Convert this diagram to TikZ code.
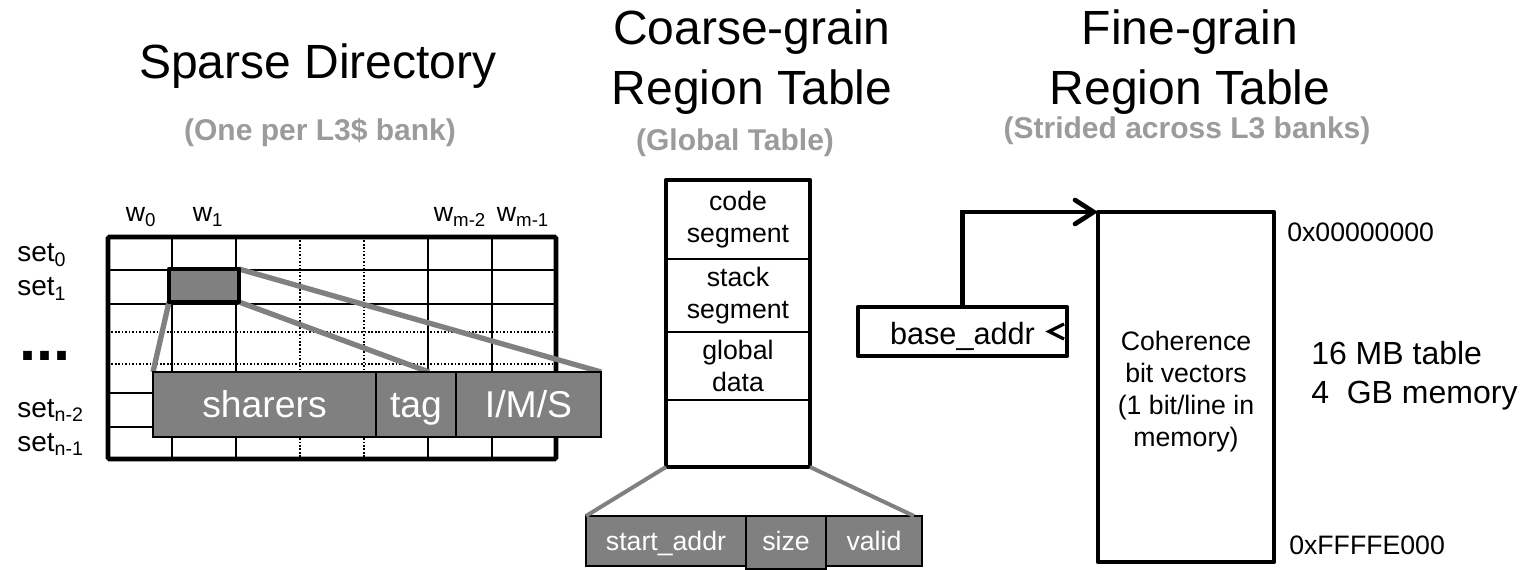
\documentclass[tikz,border=0pt]{standalone}
\usepackage{fontspec}
\setmainfont{Liberation Sans}
\usetikzlibrary{arrows.meta}
\definecolor{boxgray}{RGB}{128,128,128}
\definecolor{linegray}{RGB}{128,128,128}
\definecolor{subgray}{RGB}{155,155,155}
\pgfdeclarelayer{gridlayer}
\pgfdeclarelayer{front}
\pgfsetlayers{gridlayer,main,front}
\begin{document}
\begin{tikzpicture}[x=0.75pt,y=-0.75pt,
  title/.style={font=\fontsize{36}{45}\selectfont, inner sep=0, anchor=base},
  subtitle/.style={font=\fontsize{22.5}{27}\selectfont\bfseries, text=subgray, inner sep=0, anchor=base},
  lbl/.style={font=\fontsize{20}{24}\selectfont, inner sep=0},
  setlbl/.style={font=\fontsize{21}{25}\selectfont, inner sep=0, anchor=base west},
  gridline/.style={line width=1.5pt},
  dotline/.style={line width=1.2pt, dash pattern=on 1.2pt off 1.4pt},
  thickline/.style={line width=3.5pt, line join=round},
  field/.style={draw=black, fill=boxgray, text=white, line width=1.5pt, inner sep=0, outer sep=0,
     font=\fontsize{28}{34}\selectfont, text height=21pt, text depth=1pt, minimum height=48.75pt},
  smallfield/.style={draw=black, fill=boxgray, text=white, line width=1.2pt, inner sep=0, outer sep=0,
     font=\fontsize{20}{24}\selectfont, text height=14.5pt, text depth=1pt},
  cellbox/.style={draw=black, fill=boxgray, line width=3.5pt, line join=round, inner sep=0, outer sep=0,
     minimum width=52.5pt, minimum height=24.75pt},
  segrow/.style={draw=black, line width=1pt, inner sep=0, outer sep=0, minimum width=108pt,
     align=center, font=\fontsize{20}{24}\selectfont},
  zoomline/.style={draw=linegray, line width=4pt},
  zoomline2/.style={draw=linegray, line width=3pt},
  arrowline/.style={line width=3.5pt, line join=miter},
]
\useasboundingbox (0,0) rectangle (1524,570);

% ---------- titles ----------
\node[title] (sdtitle) at (318,79) {Sparse Directory};
\node[subtitle] (sdsub) at (320,141) {(One per L3\$ bank)};
\node[title] (cgtitleA) at (752,45) {Coarse-grain};
\node[title] (cgtitleB) at (752,105) {Region Table};
\node[subtitle] (cgsub) at (735,151) {(Global Table)};
\node[title] (fgtitleA) at (1190,45) {Fine-grain};
\node[title] (fgtitleB) at (1190,105) {Region Table};
\node[subtitle] (fgsub) at (1187,139) {(Strided across L3 banks)};

% ---------- sparse directory grid ----------
\begin{pgfonlayer}{gridlayer}
\foreach \y in {270,304,393,427} \draw[gridline] (108,\y) -- (556,\y);
\foreach \y in {332,364} \draw[dotline] (108,\y) -- (556,\y);
\foreach \x in {172,236,428,492} \draw[gridline] (\x,237) -- (\x,459);
\foreach \x in {300,364} \draw[dotline] (\x,237) -- (\x,459);
\node[draw, line width=3.5pt, rounded corners=1pt, inner sep=0, outer sep=0,
      minimum width=336pt, minimum height=166.5pt] (grid) at (332,348) {};
\end{pgfonlayer}

% way labels
\node[lbl, anchor=base] (w0) at (141,222) {w\textsubscript{0}};
\node[lbl, anchor=base] (w1) at (208,222) {w\textsubscript{1}};
\node[lbl, anchor=base] (wm2) at (460,222) {w\textsubscript{m-2}};
\node[lbl, anchor=base] (wm1) at (523,222) {w\textsubscript{m-1}};
% set labels
\node[setlbl] (s0) at (17,262) {set\textsubscript{0}};
\node[setlbl] (s1) at (17,296) {set\textsubscript{1}};
\node[inner sep=0, anchor=base west, font=\fontsize{46}{50}\selectfont\bfseries] (sdots) at (19,360) {...};
\node[setlbl] (sn2) at (17,417) {set\textsubscript{n-2}};
\node[setlbl] (sn1) at (17,451) {set\textsubscript{n-1}};

% directory entry fields and highlighted cell (front layer)
\begin{pgfonlayer}{front}
\node[field, minimum width=167.25pt] (sharers) at (264.5,404.5) {sharers};
\node[field, minimum width=60pt] (tag) at (416,404.5) {tag};
\node[field, minimum width=108.75pt] (ims) at (528.5,404.5) {I/M/S};
\node[cellbox] (cell) at (204,285.5) {};
\end{pgfonlayer}
\coordinate (tagmark) at (429,372);

% zoom lines
\draw[zoomline] (cell.south west) -- (sharers.north west);
\draw[zoomline] (cell.south east) -- (tagmark);
\draw[zoomline] (cell.north east) -- (ims.north east);

% ---------- coarse-grain region table ----------
\node[segrow, minimum height=59.25pt] (code) at (738,219.5) {code\\segment};
\node[segrow, minimum height=54.75pt] (stack) at (738,295.5) {stack\\segment};
\node[segrow, minimum height=51pt] (global) at (738,366) {global\\data};
\node[segrow, minimum height=50.25pt] (empty) at (738,433.5) {};
\draw[thickline] (code.north west) rectangle (empty.south east);

\node[smallfield, minimum width=120pt, minimum height=37.5pt] (start) at (666,541) {start\_addr};
\node[smallfield, minimum width=60pt, minimum height=39.75pt, text depth=1.9pt] (size) at (786,542.5) {size};
\node[smallfield, minimum width=72pt, minimum height=37.5pt] (valid) at (874,541) {valid};
\coordinate (validmark) at (914,516);
\draw[zoomline2] (empty.south west) -- (start.north west);
\draw[zoomline2] (empty.south east) -- (validmark);

% ---------- fine-grain region table ----------
\node[draw=black, line width=3.5pt, line join=round, inner sep=0, outer sep=0,
      minimum width=132pt, minimum height=262.5pt] (fine) at (1186,387) {};
\node[lbl, align=center] (finetext) at (1186,392) {Coherence\\bit vectors\\(1 bit/line in\\memory)};
\node[draw=black, line width=3.5pt, line join=round, inner sep=0, outer sep=0,
      minimum width=156.75pt, minimum height=36.75pt, font=\fontsize{23}{28}\selectfont,
      text height=19.8pt, text depth=1pt] (base) at (962.5,331.5) {base\_addr};
\coordinate (chevtip) at (1049,331.5);
\draw[line width=2.5pt, line join=miter] (1064,324) -- (chevtip) -- (1064,339);
\draw[arrowline, -{Straight Barb[length=14pt,width=18pt,line cap=round]}] (base.north) |- (fine.north west);

\node[lbl, anchor=base west] (addr0) at (1287,241.5) {0x00000000};
\node[lbl, anchor=base west] (addr1) at (1289,554.5) {0xFFFFE000};
\node[inner sep=0, anchor=base west, font=\fontsize{24}{30}\selectfont] (sz1) at (1311,364.5) {16 MB table};
\node[inner sep=0, anchor=base west, font=\fontsize{24}{30}\selectfont] (sz2) at (1311,403) {4\ \ GB memory};
\end{tikzpicture}
\end{document}
